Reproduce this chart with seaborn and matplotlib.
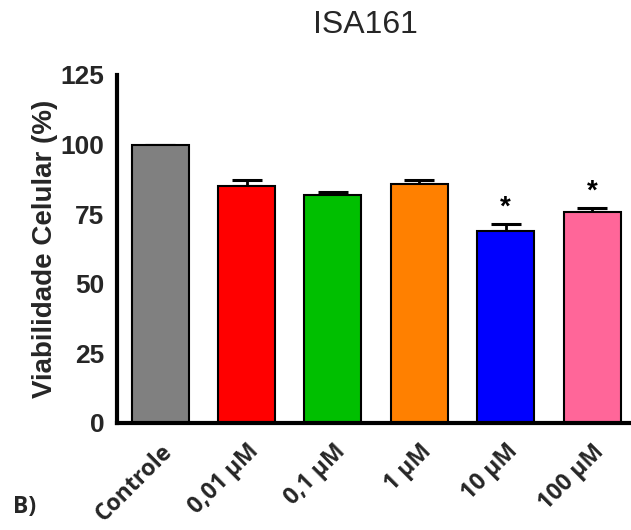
import matplotlib
matplotlib.use("Agg")
import matplotlib.pyplot as plt
import seaborn as sns
import numpy as np

categories = ["Controle", "0,01 \u00b5M", "0,1 \u00b5M", "1 \u00b5M", "10 \u00b5M", "100 \u00b5M"]
values = [100.0, 85.0, 81.8, 86.0, 69.0, 75.9]
errors = [0.0, 2.2, 1.3, 1.4, 2.6, 1.5]
colors = ["#808080", "#FF0000", "#00BF00", "#FF8000", "#0000FF", "#FF6699"]
significant = [False, False, False, False, True, True]
yticks = [0, 25, 50, 75, 100, 125]

sns.set_style("white")
plt.rcParams['font.family'] = ['Liberation Sans', 'DejaVu Sans']

fig = plt.figure(figsize=(6.31, 5.30), dpi=100)
ax = fig.add_axes([0.1854, 0.2019, 0.8146, 0.6566])

x = np.arange(len(categories))
ax.errorbar(x, values, yerr=[np.zeros(len(errors)), errors], fmt='none',
            ecolor='black', elinewidth=2, capsize=11, capthick=2.2, zorder=1)
sns.barplot(x=categories, y=values, hue=categories, palette=colors, legend=False,
            saturation=1, width=0.66, edgecolor='black', linewidth=1.5, ax=ax, zorder=2)

for i, (v, e, s) in enumerate(zip(values, errors, significant)):
    if s:
        ax.text(i, v + e + 1.0, "*", ha='center', va='bottom', fontsize=20,
                fontweight='bold', color='black')

ax.set_xlim(-0.5, 5.45)
ax.set_ylim(0, 125)
ax.set_yticks(yticks)
ax.set_yticklabels([str(t) for t in yticks], fontsize=19, fontweight='bold')
ax.set_xticks(x)
ax.set_xticklabels(categories, rotation=45, ha='right', rotation_mode='anchor',
                    fontsize=16.5, fontweight='bold', family=['Open Sans', 'DejaVu Sans'])
ax.set_xlabel("")
ax.set_ylabel("Viabilidade Celular (%)", fontsize=20, fontweight='bold', labelpad=2)

for side in ['top', 'right']:
    ax.spines[side].set_visible(False)
for side in ['left', 'bottom']:
    ax.spines[side].set_linewidth(3)
    ax.spines[side].set_color('black')
ax.tick_params(axis='both', direction='out', length=8, width=3, color='black')
ax.tick_params(axis='y', pad=1)
ax.tick_params(axis='x', pad=4)

fig.text(365 / 631, 1 - 25 / 530, "ISA161", ha='center', va='center', fontsize=23)
fig.text(13 / 631, 1 - 507 / 530, "B)", ha='left', va='center', fontsize=16.5,
         fontweight='bold', family=['Open Sans', 'DejaVu Sans'])

fig.savefig("out.png", dpi=100)
